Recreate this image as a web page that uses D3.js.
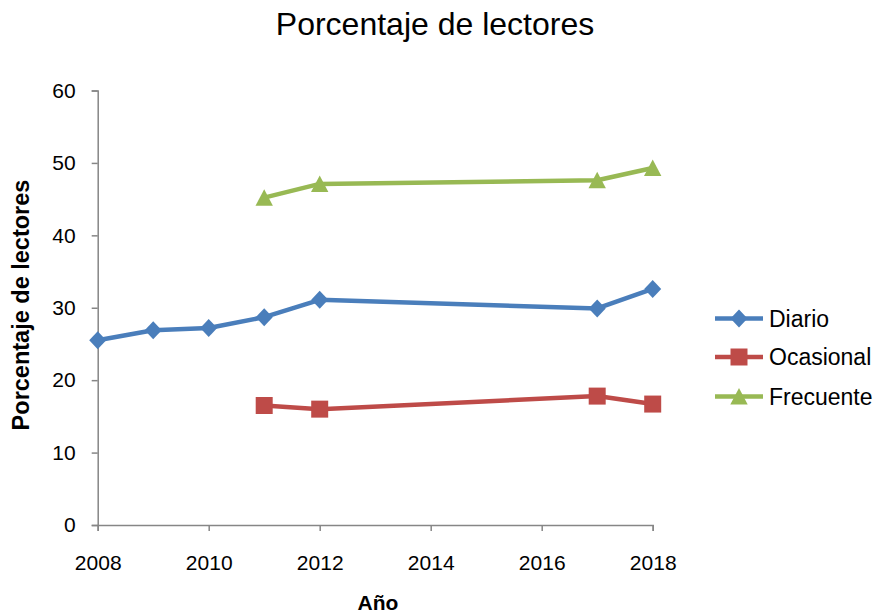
<!DOCTYPE html>
<html>
<head>
<meta charset="utf-8">
<script src="https://cdn.jsdelivr.net/npm/d3@7"></script>
<style>
  body { margin: 0; background: #fff; }
  text { font-family: "Liberation Sans", Arial, sans-serif; }
</style>
</head>
<body>
<svg id="chart"></svg>
<script>
// Chart data
const years = [2008, 2009, 2010, 2011, 2012, 2017, 2018];
const diario = [25.5, 26.9, 27.2, 28.7, 31.1, 29.9, 32.6];
const ocasional = [null, null, null, 16.5, 16.0, 17.8, 16.7];
const frecuente = [null, null, null, 45.2, 47.1, 47.6, 49.3];
const seriesNames = ["Diario", "Ocasional", "Frecuente"];
const xTicks = [2008, 2010, 2012, 2014, 2016, 2018];
const yTicks = [0, 10, 20, 30, 40, 50, 60];

const width = 874, height = 616;
const svg = d3.select("#chart").attr("width", width).attr("height", height);

// Plot area
const plotLeft = 97.7, plotRight = 652.7, plotTop = 90.5, plotBottom = 525;

const x = d3.scaleLinear().domain([2008, 2018]).range([plotLeft, plotRight]);
const y = d3.scaleLinear().domain([0, 60]).range([plotBottom, plotTop]);

const axisColor = "#868686";
const fontFam = "Liberation Sans, Arial, sans-serif";

// Title
svg.append("text")
  .attr("x", 435)
  .attr("y", 35)
  .attr("text-anchor", "middle")
  .attr("font-size", 32)
  .text("Porcentaje de lectores");

// Y axis
const yAxis = svg.append("g")
  .attr("transform", `translate(${plotLeft},0)`)
  .call(d3.axisLeft(y).tickValues(yTicks).tickSize(6).tickPadding(16));
yAxis.selectAll("text").attr("font-size", 21).attr("fill", "#000").style("font-family", fontFam);

// X axis
const xAxis = svg.append("g")
  .attr("transform", `translate(0,${plotBottom})`)
  .call(d3.axisBottom(x).tickValues(xTicks).tickFormat(d3.format("d")).tickSize(6).tickPadding(24));
xAxis.selectAll("text").attr("font-size", 21).attr("fill", "#000").style("font-family", fontFam);

[yAxis, xAxis].forEach(a => {
  a.select(".domain").attr("stroke", axisColor).attr("stroke-width", 1.5);
  a.selectAll(".tick line").attr("stroke", axisColor).attr("stroke-width", 1.5);
});

// Axis titles
svg.append("text")
  .attr("transform", `translate(29,305) rotate(-90)`)
  .attr("text-anchor", "middle")
  .attr("font-size", 23.5)
  .attr("font-weight", "bold")
  .text("Porcentaje de lectores");

svg.append("text")
  .attr("x", 378)
  .attr("y", 610)
  .attr("text-anchor", "middle")
  .attr("font-size", 21)
  .attr("font-weight", "bold")
  .text("Año");

// Marker shapes (centred on the point)
const markerPaths = [
  "M0,-9L8.5,0L0,9L-8.5,0Z",          // diamond
  "M-8.5,-8.5H8.5V8.5H-8.5Z",         // square
  "M0,-8.5L8.7,8L-8.7,8Z"             // triangle
];
const colors = ["#4A7EBB", "#BE4B48", "#98B954"];
const allSeries = [diario, ocasional, frecuente];

const line = d3.line()
  .defined(d => d.v !== null)
  .x(d => x(d.year))
  .y(d => y(d.v));

allSeries.forEach((vals, i) => {
  const pts = years.map((yr, j) => ({ year: yr, v: vals[j] }));
  svg.append("path")
    .datum(pts)
    .attr("d", line)
    .attr("fill", "none")
    .attr("stroke", colors[i])
    .attr("stroke-width", 4.5)
    .attr("stroke-linejoin", "round");

  svg.selectAll(".pt" + i)
    .data(pts.filter(d => d.v !== null))
    .enter()
    .append("path")
    .attr("class", "pt" + i)
    .attr("d", markerPaths[i])
    .attr("transform", d => `translate(${x(d.year)},${y(d.v)})`)
    .attr("fill", colors[i]);
});

// Legend
const legendY = [318.5, 357, 396.5];
seriesNames.forEach((name, i) => {
  const g = svg.append("g").attr("transform", `translate(715,${legendY[i]})`);
  g.append("line")
    .attr("x1", 0).attr("x2", 48)
    .attr("y1", 0).attr("y2", 0)
    .attr("stroke", colors[i])
    .attr("stroke-width", 4.5);
  g.append("path")
    .attr("d", markerPaths[i])
    .attr("transform", "translate(24,0)")
    .attr("fill", colors[i]);
  g.append("text")
    .attr("x", 54)
    .attr("y", 0)
    .attr("dy", "0.35em")
    .attr("font-size", 23)
    .text(name);
});
</script>
</body>
</html>
